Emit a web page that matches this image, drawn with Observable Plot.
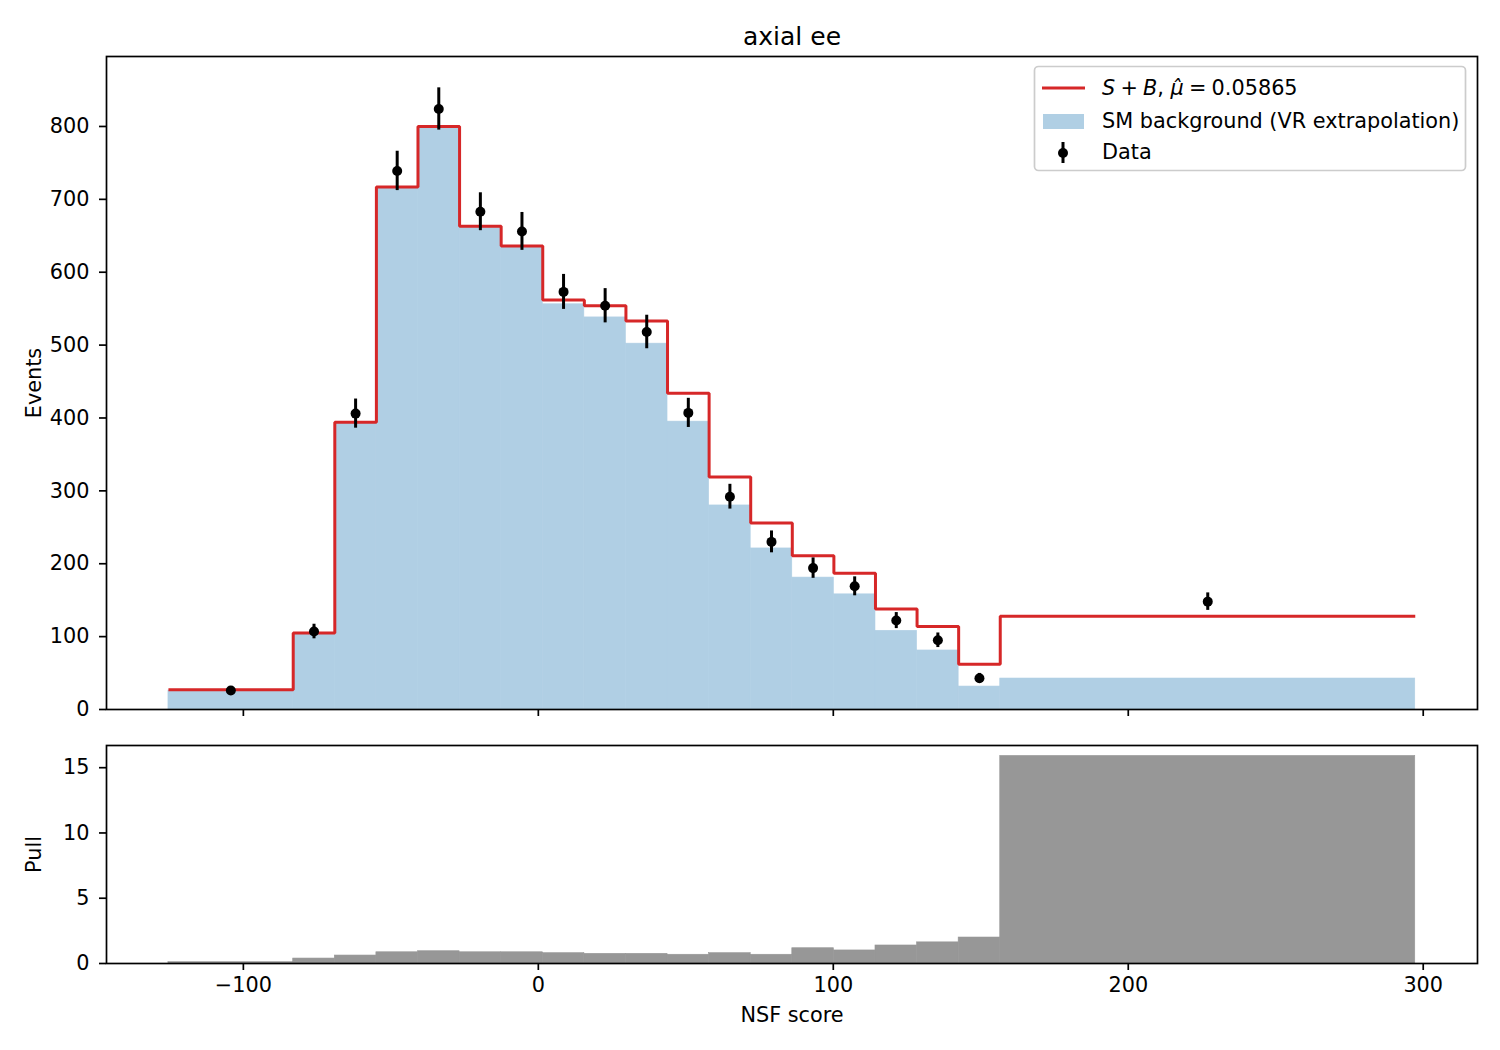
<!DOCTYPE html>
<html><head><meta charset="utf-8">
<script src="https://cdn.jsdelivr.net/npm/d3@7"></script>
<script src="https://cdn.jsdelivr.net/npm/@observablehq/plot@0.6"></script>
<style>
body{margin:0;background:#fff;}
#fig{position:relative;width:1500px;height:1050px;font-family:"DejaVu Sans";background:#fff;}
#fig > svg{position:absolute;left:0;}
</style></head><body><div id="fig"></div>
<script>
// ---- data ----
const binEdges = [-125.4, -83.1, -69.0, -54.9, -40.8, -26.7, -12.6, 1.5, 15.6, 29.7, 43.8, 57.9, 72.0, 86.1, 100.2, 114.3, 128.4, 142.5, 156.6, 297.3];
const sbValues = [27, 105, 394, 717, 800, 663, 636, 562, 554, 533, 434, 319, 256, 211, 187, 138, 114, 62, 128];
const bkgValues = [26, 104, 393, 716, 799, 662, 635, 556, 538, 502, 395, 280, 221, 181, 158, 108, 81, 31.5, 42.5];
const dataValues = [26, 107, 406, 739, 824, 683, 656, 573, 554, 518, 407, 292, 230, 194, 169, 122, 95, 43, 148];
const dataErrors = [5, 10, 20, 27, 29, 26, 26, 24, 23.5, 23, 20, 17, 15, 14, 13, 11, 10, 6.5, 12];
const pullValues = [0.1, 0.38, 0.61, 0.86, 0.94, 0.86, 0.86, 0.79, 0.74, 0.74, 0.67, 0.79, 0.67, 1.17, 1.0, 1.38, 1.62, 1.99, 15.9];
const xTicks = [-100, 0, 100, 200, 300];
const yTicksTop = [0, 100, 200, 300, 400, 500, 600, 700, 800];
const yTicksPull = [0, 5, 10, 15];
const title = "axial ee";
const xLabel = "NSF score";
const yLabelTop = "Events";
const yLabelPull = "Pull";

// ---- build tables ----
const bins = sbValues.map((v, i) => ({
  lo: binEdges[i], hi: binEdges[i + 1], c: (binEdges[i] + binEdges[i + 1]) / 2,
  sb: v, bkg: bkgValues[i], data: dataValues[i], err: dataErrors[i], pull: pullValues[i]
}));
const stepPts = binEdges.map((e, i) => ({x: e, y: sbValues[Math.min(i, sbValues.length - 1)]}));

const xDomain = [-146.4, 318.4];
const fmt = d => (d < 0 ? "\u2212" + Math.abs(d) : String(d));
const FS = 20.8;
const BLUE = "#b0cfe4", RED = "#d62728", GRAY = "#979797";

const topPlot = Plot.plot({
  width: 1500, height: 730,
  marginTop: 56, marginBottom: 21, marginLeft: 106, marginRight: 23,
  x: {domain: xDomain},
  y: {domain: [0, 896]},
  style: {fontFamily: "DejaVu Sans", background: "white", overflow: "visible"},
  marks: [
    Plot.rect(bins, {x1: "lo", x2: "hi", y1: 0, y2: "bkg", fill: BLUE, stroke: BLUE, strokeWidth: 0.6}),
    Plot.line(stepPts, {x: "x", y: "y", curve: "step-after", stroke: RED, strokeWidth: 3, strokeLinecap: "butt", strokeLinejoin: "miter"}),
    Plot.ruleX(bins, {x: "c", y1: d => d.data - d.err, y2: d => d.data + d.err, stroke: "black", strokeWidth: 3}),
    Plot.dot(bins, {x: "c", y: "data", r: 5, fill: "black", stroke: null}),
    Plot.axisY({ticks: yTicksTop, tickSize: 7, tickPadding: 10, fontSize: FS, strokeWidth: 1.7, label: null, tickFormat: fmt}),
    Plot.axisX({ticks: xTicks, tickSize: 7, tickFormat: () => "", strokeWidth: 1.7, label: null}),
    Plot.frame({stroke: "black", strokeWidth: 1.7}),
    Plot.text([title], {text: d => d, frameAnchor: "top", textAnchor: "middle", lineAnchor: "bottom", dy: -12, fontSize: 25}),
    Plot.text([yLabelTop], {text: d => d, frameAnchor: "left", textAnchor: "middle", rotate: -90, lineAnchor: "bottom", dx: -66, fontSize: FS})
  ]
});
topPlot.style.top = "0px";

const pullPlot = Plot.plot({
  width: 1500, height: 320,
  marginTop: 15, marginBottom: 87, marginLeft: 106, marginRight: 23,
  x: {domain: xDomain},
  y: {domain: [0, 16.7]},
  style: {fontFamily: "DejaVu Sans", background: "white", overflow: "visible"},
  marks: [
    Plot.rect(bins, {x1: "lo", x2: "hi", y1: 0, y2: "pull", fill: GRAY, stroke: GRAY, strokeWidth: 0.6}),
    Plot.axisY({ticks: yTicksPull, tickSize: 7, tickPadding: 10, fontSize: FS, strokeWidth: 1.7, label: null, tickFormat: fmt}),
    Plot.axisX({ticks: xTicks, tickSize: 7, tickPadding: 7, fontSize: FS, strokeWidth: 1.7, label: null, tickFormat: fmt}),
    Plot.frame({stroke: "black", strokeWidth: 1.7}),
    Plot.text([yLabelPull], {text: d => d, frameAnchor: "left", textAnchor: "middle", rotate: -90, lineAnchor: "bottom", dx: -66, fontSize: FS}),
    Plot.text([xLabel], {text: d => d, frameAnchor: "bottom", textAnchor: "middle", lineAnchor: "bottom", dy: 58, fontSize: FS})
  ]
});
pullPlot.style.top = "730px";

const fig = document.getElementById("fig");
fig.appendChild(topPlot);
fig.appendChild(pullPlot);

// ---- legend ----
const leg = d3.create("svg").attr("width", 1500).attr("height", 200)
  .style("top", "0px").style("pointer-events", "none")
  .attr("font-family", "DejaVu Sans").attr("font-size", FS);
leg.append("rect").attr("x", 1034.5).attr("y", 66.5).attr("width", 431).attr("height", 104).attr("rx", 4)
  .attr("fill", "white").attr("fill-opacity", 0.8).attr("stroke", "#cccccc").attr("stroke-width", 1.7);
leg.append("line").attr("x1", 1042).attr("x2", 1085).attr("y1", 88).attr("y2", 88).attr("stroke", RED).attr("stroke-width", 3);
const t1 = leg.append("text").attr("x", 1102).attr("y", 95);
t1.append("tspan").attr("font-style", "italic").text("S");
t1.append("tspan").text("\u2005+\u2005");
t1.append("tspan").attr("font-style", "italic").text("B");
t1.append("tspan").text(", ");
t1.append("tspan").attr("font-style", "italic").text("\u03bc\u0302");
t1.append("tspan").text("\u2005=\u20050.05865");
leg.append("rect").attr("x", 1043).attr("y", 114).attr("width", 41).attr("height", 15).attr("fill", BLUE);
leg.append("text").attr("x", 1102).attr("y", 128).text("SM background (VR extrapolation)");
leg.append("line").attr("x1", 1063).attr("x2", 1063).attr("y1", 142).attr("y2", 163).attr("stroke", "black").attr("stroke-width", 3);
leg.append("circle").attr("cx", 1063).attr("cy", 153).attr("r", 5).attr("fill", "black");
leg.append("text").attr("x", 1102).attr("y", 159).text("Data");
fig.appendChild(leg.node());
</script>
</body></html>
